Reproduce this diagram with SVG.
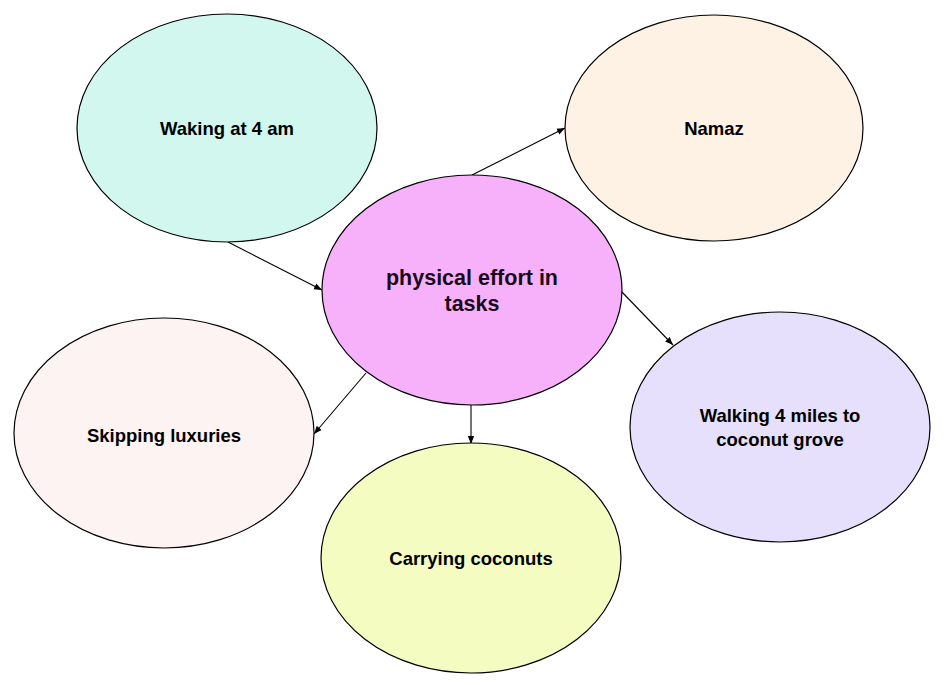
<svg xmlns="http://www.w3.org/2000/svg" width="950" height="687" viewBox="0 0 950 687">
<defs>
<style>
.n ellipse{stroke:#000;stroke-width:1.2}
.t{font-family:"Liberation Sans",Arial,sans-serif;font-weight:bold;font-size:18.5px;fill:#000;text-anchor:middle}
.c{font-size:21.5px;fill:#1a0a1a}
.e line{stroke:#000;stroke-width:1.1;marker-end:url(#ah)}
</style>
<marker id="ah" viewBox="0 0 10 10" refX="10" refY="5" markerWidth="8" markerHeight="8" markerUnits="userSpaceOnUse" orient="auto">
<path d="M0,1 L10,5 L0,9 Z" fill="#000"/>
</marker>
</defs>
<rect width="950" height="687" fill="#fff"/>
<g id="connectors" class="e">
<line x1="228" y1="242" x2="322" y2="290"/>
<line x1="472" y1="175" x2="565" y2="128"/>
<line x1="621" y1="291" x2="673" y2="345"/>
<line x1="366" y1="373" x2="314" y2="434"/>
<line x1="471" y1="405" x2="471" y2="444"/>
</g>
<g id="waking" class="n">
<ellipse cx="227" cy="128" rx="150" ry="114" fill="#d1f7ef"/>
<text class="t" x="227" y="135">Waking at 4 am</text>
</g>
<g id="namaz" class="n">
<ellipse cx="714" cy="128" rx="149" ry="113" fill="#fdf2e4"/>
<text class="t" x="714" y="135">Namaz</text>
</g>
<g id="center" class="n">
<ellipse cx="472" cy="290" rx="150" ry="115" fill="#f7b1fb"/>
<text class="t c" x="472" y="285">physical effort in</text>
<text class="t c" x="472" y="311">tasks</text>
</g>
<g id="skipping" class="n">
<ellipse cx="164" cy="433" rx="150" ry="115" fill="#fdf3f3"/>
<text class="t" x="164" y="442">Skipping luxuries</text>
</g>
<g id="walking" class="n">
<ellipse cx="780" cy="427" rx="150" ry="115" fill="#e6e0fc"/>
<text class="t" x="780" y="422">Walking 4 miles to</text>
<text class="t" x="780" y="446">coconut grove</text>
</g>
<g id="carrying" class="n">
<ellipse cx="471" cy="558" rx="150" ry="115" fill="#f4fcc2"/>
<text class="t" x="471" y="565">Carrying coconuts</text>
</g>
</svg>
